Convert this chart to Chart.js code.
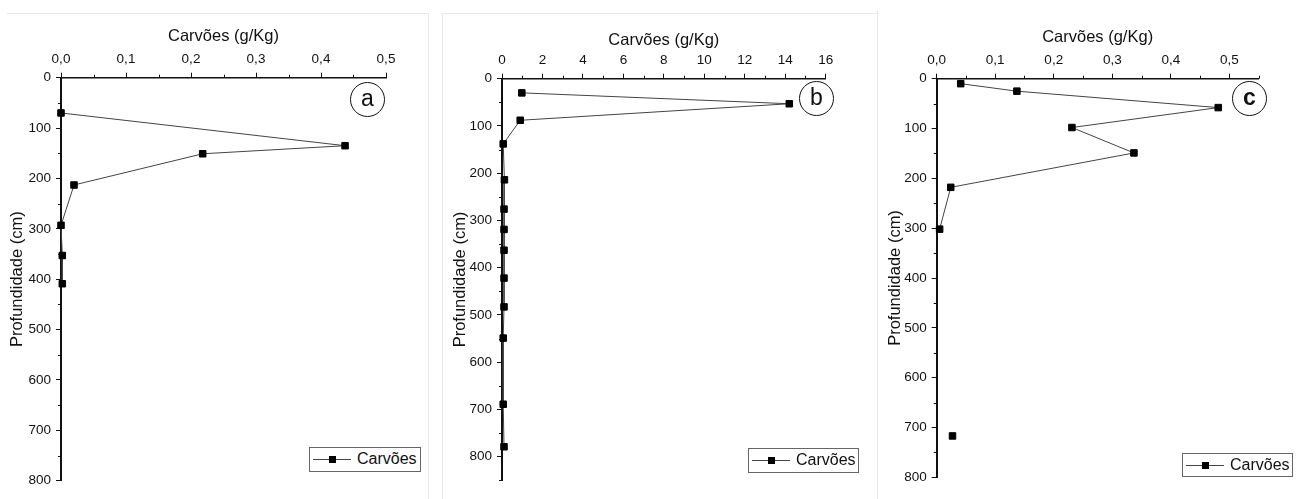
<!DOCTYPE html>
<html>
<head>
<meta charset="utf-8">
<script src="https://cdn.jsdelivr.net/npm/chart.js@4/dist/chart.umd.min.js"></script>
<style>
  body { margin: 0; background: #fff; font-family: "Liberation Sans", Arial, sans-serif; }
  #wrap { position: relative; width: 1304px; height: 499px; overflow: hidden; }
  canvas { position: absolute; top: 0; }
  .rule { position: absolute; background: #e8e8e8; }
  .legend { position: absolute; border: 1.5px solid #666; box-sizing: border-box; background: #fff;
            font-size: 16px; color: #111; }
  .legend .ln { position: absolute; left: 3px; width: 38px; top: 11px; border-top: 1px solid #444; }
  .legend .sq { position: absolute; left: 19px; top: 8px; width: 7px; height: 7px; background: #000; }
  .legend .tx { position: absolute; left: 47px; top: 2px; }
  .tag { position: absolute; width: 35px; height: 35px; border: 1.5px solid #111; border-radius: 50%;
         box-sizing: border-box; text-align: center; line-height: 31px; font-size: 23px; color: #111; }
</style>
</head>
<body>
<div id="wrap">
  <div class="rule" style="left:7px;top:13px;width:421px;height:1px"></div>
  <div class="rule" style="left:428px;top:13px;width:1px;height:486px"></div>
  <div class="rule" style="left:442px;top:13px;width:435px;height:1px"></div>
  <div class="rule" style="left:442px;top:13px;width:1px;height:486px"></div>
  <div class="rule" style="left:877px;top:10px;width:1px;height:489px"></div>

  <canvas id="ca" width="428" height="499" style="left:0px"></canvas>
  <canvas id="cb" width="435" height="499" style="left:442px"></canvas>
  <canvas id="cc" width="427" height="499" style="left:877px"></canvas>

  <div class="tag" style="left:350px;top:82px">a</div>
  <div class="tag" style="left:799px;top:81px">b</div>
  <div class="tag" style="left:1232px;top:81px;font-weight:bold">c</div>

  <div class="legend" style="left:309px;top:447px;width:112px;height:25px">
    <div class="ln"></div><div class="sq"></div><div class="tx">Carvões</div></div>
  <div class="legend" style="left:748px;top:448px;width:111px;height:25px">
    <div class="ln"></div><div class="sq"></div><div class="tx">Carvões</div></div>
  <div class="legend" style="left:1182px;top:453px;width:111px;height:24px">
    <div class="ln"></div><div class="sq"></div><div class="tx">Carvões</div></div>
</div>
<script>
// depth (cm) and charcoal (g/Kg) for each profile
var depthA = [70, 135, 151, 213, 293, 353, 409];
var carvoesA = [0.0, 0.437, 0.218, 0.02, 0.0, 0.002, 0.002];

var depthB = [30, 53, 88, 138, 214, 276, 319, 363, 422, 483, 549, 689, 779];
var carvoesB = [0.98, 14.2, 0.9, 0.06, 0.12, 0.1, 0.1, 0.1, 0.1, 0.1, 0.06, 0.06, 0.1];

// null = break in the line (isolated sample at the bottom)
var depthC = [10, 25, 58, 98, 149, 218, 302, null, 717];
var carvoesC = [0.041, 0.137, 0.481, 0.231, 0.337, 0.024, 0.005, null, 0.027];

var xTitle = 'Carvões (g/Kg)';
var yTitle = 'Profundidade (cm)';
var seriesName = 'Carvões';

var ink = '#111';

// short ticks between the labelled ones
var minorTicks = {
  id: 'minorTicks',
  afterDraw: function(chart, args, opts) {
    var ctx = chart.ctx;
    var xs = chart.scales.x, ys = chart.scales.y;
    ctx.save();
    ctx.strokeStyle = ink;
    ctx.lineWidth = 1;
    ctx.beginPath();
    for (var v = opts.xMinor; v <= xs.max + 1e-9; v += opts.xMinor * 2) {
      var px = Math.round(xs.getPixelForValue(v)) + 0.5;
      ctx.moveTo(px, xs.bottom);
      ctx.lineTo(px, xs.bottom - 3);
    }
    for (var w = opts.yMinor; w <= ys.max + 1e-9; w += opts.yMinor * 2) {
      var py = Math.round(ys.getPixelForValue(w)) + 0.5;
      ctx.moveTo(ys.right, py);
      ctx.lineTo(ys.right - 3, py);
    }
    ctx.stroke();
    ctx.restore();
  }
};

// major ticks every `step` from 0 up to max
function stepTicks(max, step) {
  var out = [];
  for (var i = 0; i * step <= max + 1e-9; i++) out.push({ value: +(i * step).toFixed(6) });
  return out;
}

function makeChart(id, depth, vals, cfg) {
  var pts = depth.map(function(d, i) { return { x: vals[i], y: d }; });
  var step = cfg.xStep;
  return new Chart(document.getElementById(id), {
    type: 'scatter',
    data: {
      datasets: [{
        label: seriesName,
        data: pts,
        showLine: true,
        borderColor: '#444',
        borderWidth: 1,
        pointStyle: 'rect',
        pointRadius: 4.6,
        pointBorderWidth: 1,
        pointBackgroundColor: '#000',
        pointBorderColor: '#000',
        clip: false
      }]
    },
    options: {
      responsive: false,
      animation: false,
      layout: { padding: cfg.pad },
      plugins: {
        legend: { display: false },
        tooltip: { enabled: false },
        minorTicks: { xMinor: step / 2, yMinor: 50 }
      },
      scales: {
        x: {
          type: 'linear',
          position: 'top',
          min: 0,
          max: cfg.xMax,
          afterBuildTicks: function(s) { s.ticks = stepTicks(cfg.xMax, step); },
          afterFit: function(s) { s.height = cfg.top; },
          ticks: {
            padding: 5,
            color: ink,
            font: { family: 'Liberation Sans', size: 13.5 },
            callback: function(v) { return cfg.fmt(v); }
          },
          grid: { drawOnChartArea: false, drawTicks: true, tickLength: 5, tickColor: ink, tickWidth: 1 },
          border: { display: true, color: ink, width: 1.5 },
          title: {
            display: true, text: xTitle, color: ink,
            font: { family: 'Liberation Sans', size: 16.5 },
            padding: { top: cfg.xtPad, bottom: 0 }
          }
        },
        y: {
          type: 'linear',
          position: 'left',
          reverse: true,
          min: 0,
          max: cfg.yMax,
          afterBuildTicks: function(s) { s.ticks = stepTicks(cfg.yMax, 100); },
          afterFit: function(s) { s.width = cfg.left; },
          ticks: {
            padding: 5,
            color: ink,
            font: { family: 'Liberation Sans', size: 13.5 }
          },
          grid: { drawOnChartArea: false, drawTicks: true, tickLength: 5, tickColor: ink, tickWidth: 1 },
          border: { display: true, color: ink, width: 2 },
          title: {
            display: true, text: yTitle, color: ink,
            font: { family: 'Liberation Sans', size: 16.5 },
            padding: { top: cfg.ytPad, bottom: 0 }
          }
        }
      }
    },
    plugins: [minorTicks]
  });
}

function comma1(v) { return v.toFixed(1).replace('.', ','); }
function plain(v) { return String(Math.round(v)); }

makeChart('ca', depthA, carvoesA, {
  xMax: 0.5, xStep: 0.1, yMax: 800, fmt: comma1,
  left: 61, top: 77.7, xtPad: 27, ytPad: 8,
  pad: { left: 0, top: 0, right: 42, bottom: 18.3 }
});

makeChart('cb', depthB, carvoesB, {
  xMax: 16, xStep: 2, yMax: 850, fmt: plain,
  left: 60, top: 78.7, xtPad: 31, ytPad: 8.4,
  pad: { left: 0, top: 0, right: 51.3, bottom: 18.7 }
});

makeChart('cc', depthC, carvoesC, {
  xMax: 0.55, xStep: 0.1, yMax: 800, fmt: comma1,
  left: 59.7, top: 78.7, xtPad: 27.4, ytPad: 8.9,
  pad: { left: 0, top: 0, right: 45.4, bottom: 21.7 }
});
</script>
</body>
</html>
